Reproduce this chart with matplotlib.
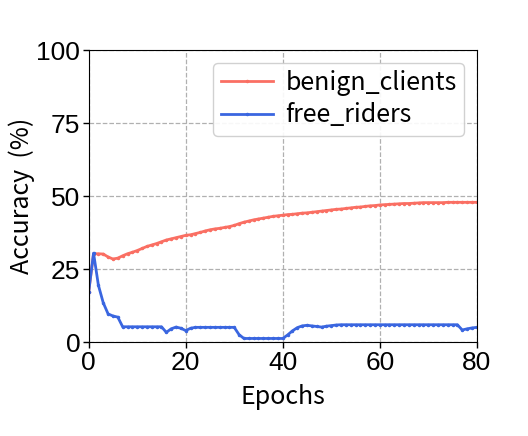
import matplotlib
matplotlib.use('Agg')
import matplotlib.pyplot as plt

# accuracy per epoch
epochs = list(range(81))

benign_clients = [17.3, 30.3, 30.3, 30.2, 29.2, 28.5, 28.8, 29.6, 30.3, 30.8,
                  31.4, 32.1, 32.8, 33.3, 33.8, 34.4, 35.0, 35.4, 35.8, 36.2,
                  36.6, 36.8, 37.2, 37.6, 38.1, 38.5, 38.8, 39.0, 39.3, 39.6,
                  40.0, 40.6, 41.1, 41.5, 41.9, 42.2, 42.5, 42.8, 43.1, 43.3,
                  43.5, 43.7, 43.8, 44.0, 44.2, 44.3, 44.5, 44.7, 44.9, 45.1,
                  45.3, 45.5, 45.6, 45.8, 46.0, 46.2, 46.3, 46.5, 46.7, 46.8,
                  47.0, 47.1, 47.2, 47.3, 47.4, 47.5, 47.5, 47.6, 47.7, 47.8,
                  47.8, 47.8, 47.8, 47.8, 47.9, 47.9, 47.9, 47.9, 47.9, 47.9,
                  47.9]

free_riders = [17.3, 30.5, 19.5, 13.5, 9.7, 9.0, 8.6, 5.3, 5.3, 5.3,
               5.3, 5.3, 5.3, 5.3, 5.3, 5.3, 3.4, 4.6, 5.2, 4.8,
               4.0, 4.8, 5.1, 5.1, 5.1, 5.1, 5.1, 5.1, 5.1, 5.1,
               5.1, 2.6, 1.3, 1.3, 1.3, 1.3, 1.3, 1.3, 1.3, 1.3,
               1.3, 2.5, 3.9, 5.0, 5.6, 5.8, 5.6, 5.4, 5.2, 5.5,
               5.7, 5.9, 6.0, 6.0, 6.0, 6.0, 6.0, 6.0, 6.0, 6.0,
               6.0, 6.0, 6.0, 6.0, 6.0, 6.0, 6.0, 6.0, 6.0, 6.0,
               6.0, 6.0, 6.0, 6.0, 6.0, 6.0, 6.0, 4.2, 4.6, 4.9,
               5.1]

x_ticks = [0, 20, 40, 60, 80]
y_ticks = [0, 25, 50, 75, 100]

label_font = ['Noto Sans CJK SC', 'DejaVu Sans']
tick_font = 'Liberation Sans'

fig = plt.figure(figsize=(5.28, 4.36), dpi=100)
ax = fig.add_axes([0.168, 0.215, 0.735, 0.670])

ax.plot(epochs, benign_clients, color='#fa6f63', lw=2, marker='.', ms=3,
        label='benign_clients')
ax.plot(epochs, free_riders, color='#3a66e0', lw=2, marker='.', ms=3,
        label='free_riders')

ax.set_xlim(0, 80)
ax.set_ylim(0, 100)
ax.set_xticks(x_ticks)
ax.set_yticks(y_ticks)
for lab in ax.get_xticklabels() + ax.get_yticklabels():
    lab.set_fontfamily(tick_font)
    lab.set_fontsize(19)
ax.tick_params(direction='out', length=4, width=1, pad=2)

ax.grid(True, linestyle='--', color='#b0b0b0', lw=0.9)
ax.set_axisbelow(True)

ax.set_xlabel('Epochs', fontfamily=label_font, fontsize=18, labelpad=7)
ax.set_ylabel('Accuracy  (%)', fontfamily=label_font, fontsize=18, labelpad=1)

ax.legend(loc='upper right', prop={'family': label_font, 'size': 18},
          handlelength=2.1, borderaxespad=0.5, borderpad=0.3,
          labelspacing=0.25, handletextpad=0.5, framealpha=0.9)

plt.savefig('out.png', dpi=100)
